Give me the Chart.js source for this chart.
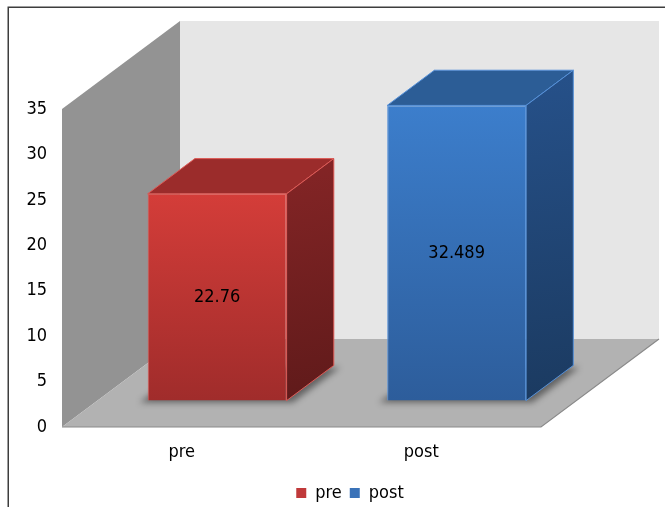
<!DOCTYPE html>
<html>
<head>
<meta charset="utf-8">
<script src="https://cdn.jsdelivr.net/npm/chart.js@4.4.0/dist/chart.umd.min.js"></script>
<style>
  html, body { margin: 0; padding: 0; background: #fff; overflow: hidden; }
  #wrap { position: relative; width: 665px; height: 512px; }
</style>
</head>
<body>
<div id="wrap"><canvas id="chart"></canvas></div>
<script>
const categories = ['pre', 'post'];
const values = [22.76, 32.489];
const yMax = 35;
const yStep = 5;

// colours per bar (front face gradient, top, side gradient, edges, legend)
const frontTop = ['#d43d39', '#3c7ecc'];
const frontBottom = ['#a02c2b', '#2d5d9b'];
const topFace = ['#9b2c2b', '#2c5d96'];
const sideTop = ['#852526', '#26518a'];
const sideBottom = ['#5f1a1a', '#1b3a60'];
const edgeColor = ['#dd5a56', '#5590d8'];
const legendColor = ['#c0393a', '#3a72b8'];

const FONT = "'DejaVu Sans Condensed', 'DejaVu Sans', sans-serif";
const DX = 118, DY = 88;          // depth of the box (walls / floor)
const BAR_FRONT = 0.3, BAR_DEPTH = 0.4;

function poly(ctx, pts, fill, stroke) {
    ctx.beginPath();
    ctx.moveTo(pts[0][0], pts[0][1]);
    for (let i = 1; i < pts.length; i++) ctx.lineTo(pts[i][0], pts[i][1]);
    ctx.closePath();
    if (fill) { ctx.fillStyle = fill; ctx.fill(); }
    if (stroke) { ctx.strokeStyle = stroke; ctx.lineWidth = 1; ctx.stroke(); }
}

const box3d = {
    id: 'box3d',
    beforeDraw(chart) {
        const ctx = chart.ctx;
        ctx.save();
        ctx.strokeStyle = '#3d3d3d';
        ctx.lineWidth = 1.5;
        ctx.strokeRect(8.25, 7.25, 800, 700);
        ctx.restore();
    },
    beforeDatasetsDraw(chart) {
        const { ctx, chartArea: a } = chart;
        const l = a.left, r = a.right, t = a.top, b = a.bottom;
        ctx.save();
        poly(ctx, [[l + DX, t - DY], [r + DX, t - DY], [r + DX, b - DY], [l + DX, b - DY]], '#e6e6e6');
        poly(ctx, [[l, t], [l + DX, t - DY], [l + DX, b - DY], [l, b]], '#939393');
        poly(ctx, [[l, b], [l + DX, b - DY], [r + DX, b - DY], [r, b]], '#b2b2b2');
        ctx.strokeStyle = '#8a8a8a';
        ctx.lineWidth = 1.2;
        ctx.beginPath();
        ctx.moveTo(l, b); ctx.lineTo(r, b); ctx.lineTo(r + DX, b - DY);
        ctx.stroke();
        ctx.restore();

        // bars sit in the middle of the depth
        ctx.save();
        ctx.translate(DX * BAR_FRONT, -DY * BAR_FRONT);
        const bx = DX * BAR_DEPTH, by = DY * BAR_DEPTH;
        chart.getDatasetMeta(0).data.forEach(bar => {
            const { x, base, width } = bar.getProps(['x', 'base', 'width'], true);
            const x0 = x - width / 2 - 8, x1 = x + width / 2 + 6;
            ctx.save();
            ctx.filter = 'blur(3px)';
            poly(ctx, [[x0, base + 2], [x1, base + 2], [x1 + bx, base - by + 2], [x0 + bx, base - by + 2]], 'rgba(0,0,0,0.45)');
            ctx.restore();
        });
    },
    afterDatasetsDraw(chart) {
        const ctx = chart.ctx;
        const bx = DX * BAR_DEPTH, by = DY * BAR_DEPTH;
        chart.getDatasetMeta(0).data.forEach((bar, i) => {
            const { x, y, base, width } = bar.getProps(['x', 'y', 'base', 'width'], true);
            const x0 = x - width / 2, x1 = x + width / 2;
            poly(ctx, [[x0, y], [x1, y], [x1 + bx, y - by], [x0 + bx, y - by]], topFace[i], edgeColor[i]);
            const g = ctx.createLinearGradient(x1, y - by, x1 + bx, base);
            g.addColorStop(0, sideTop[i]);
            g.addColorStop(1, sideBottom[i]);
            poly(ctx, [[x1, y], [x1 + bx, y - by], [x1 + bx, base - by], [x1, base]], g, edgeColor[i]);

            ctx.fillStyle = '#000';
            ctx.font = '18px ' + FONT;
            ctx.textAlign = 'center';
            ctx.textBaseline = 'middle';
            ctx.fillText(String(values[i]), x, (y + base) / 2);
        });
        ctx.restore();
    }
};

const ctx = document.getElementById('chart').getContext('2d');
new Chart(ctx, {
    type: 'bar',
    data: {
        labels: categories,
        datasets: [{
            data: values,
            backgroundColor(c) {
                const chart = c.chart;
                const i = c.dataIndex;
                if (!chart.chartArea || i === undefined) return frontTop[i || 0];
                const ys = chart.scales.y;
                const g = chart.ctx.createLinearGradient(0, ys.getPixelForValue(values[i]), 0, ys.getPixelForValue(0));
                g.addColorStop(0, frontTop[i]);
                g.addColorStop(1, frontBottom[i]);
                return g;
            },
            borderColor: edgeColor,
            borderWidth: 1,
            categoryPercentage: 0.58,
            barPercentage: 1,
            clip: false
        }]
    },
    options: {
        responsive: true,
        maintainAspectRatio: false,
        animation: false,
        // negative right padding pushes the legend centre to the right, like the original
        layout: { padding: { left: 0, top: 109, right: -35, bottom: 0 } },
        plugins: {
            tooltip: { enabled: false },
            legend: {
                position: 'bottom',
                labels: {
                    font: { family: FONT, size: 18 },
                    color: '#000',
                    boxWidth: 10,
                    boxHeight: 10,
                    padding: 8,
                    generateLabels: () => categories.map((c, i) => ({
                        text: c,
                        fillStyle: legendColor[i],
                        strokeStyle: legendColor[i],
                        lineWidth: 0,
                        hidden: false,
                        index: i,
                        fontColor: '#000'
                    }))
                }
            }
        },
        scales: {
            x: {
                grid: { display: false, drawTicks: false },
                border: { display: false },
                ticks: { font: { family: FONT, size: 18 }, color: '#000', padding: 15 },
                afterFit(s) { s.height = 49; }
            },
            y: {
                min: 0,
                max: yMax,
                grid: { display: false, drawTicks: false },
                border: { display: false },
                ticks: { stepSize: yStep, font: { family: FONT, size: 18 }, color: '#000', padding: 15 },
                afterFit(s) { s.width = 62; }
            },
            pad: {
                type: 'linear',
                position: 'right',
                grid: { display: false, drawTicks: false },
                border: { display: false },
                ticks: { display: false },
                afterFit(s) { s.width = 159; }
            }
        }
    },
    plugins: [box3d]
});
</script>
</body>
</html>
